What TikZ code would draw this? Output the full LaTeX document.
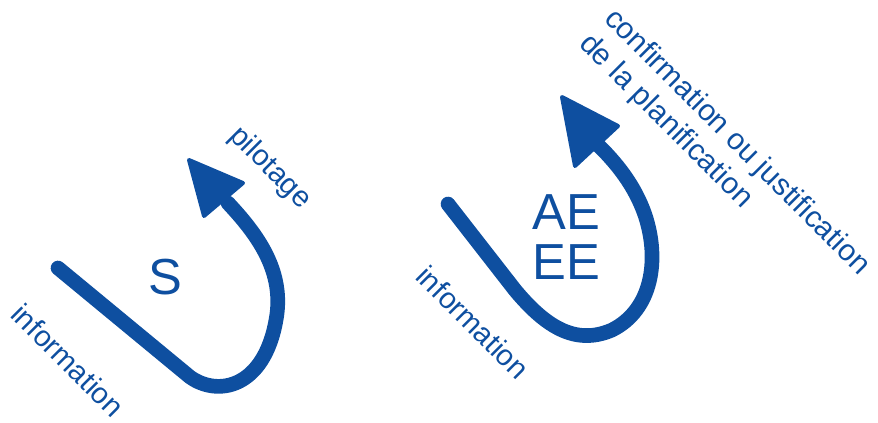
\documentclass[tikz,border=0pt]{standalone}
\usepackage{fontspec}
\setmainfont{Liberation Sans}
\usepackage{xcolor}
\definecolor{pilotblue}{RGB}{14,79,160}

\begin{document}
\begin{tikzpicture}[x=0.75pt,y=0.75pt,yscale=-1,xscale=1,
  loopline/.style={color=pilotblue, line width=11pt, line cap=round, line join=round},
  loophead/.style={color=pilotblue, fill=pilotblue, line width=3pt, line join=round},
  smalllbl/.style={inner sep=0pt, font=\fontsize{22}{26.5}\selectfont, color=pilotblue, rotate=-45},
  biglbl/.style={inner sep=0pt, font=\fontsize{38}{37}\selectfont, color=pilotblue, align=center}]
%set diagram frame 878 x 422
\useasboundingbox (0,0) rectangle (878,422);

%Curve: left loop
\draw [loopline] (58,268) -- (190,377) .. controls (218,397) and (264,388) .. (276,320) .. controls (285,272) and (258,235) .. (228,203) ;
%Shape: left head
\draw [loophead] (189,160) -- (243,183) -- (204,216) -- cycle ;

%Curve: right loop
\draw [loopline] (448,204) -- (515,290) .. controls (545,326) and (575,346) .. (612,330) .. controls (652,310) and (660,260) .. (645,215) .. controls (635,186) and (617,163) .. (595,142) ;
%Shape: right head
\draw [loophead] (562,97) -- (618,126) -- (575,166) -- cycle ;

% Text Node
\node [biglbl] (s) at (165,277) {S};
% Text Node
\node [biglbl] (ae) at (566,237) {AE\\EE};
% Text Node
\node [smalllbl] (infoS) at (68,360) {information};
% Text Node
\node [smalllbl] (pilot) at (270,168) {pilotage};
% Text Node
\node [smalllbl] (infoA) at (473,322) {information};
% Text Node
\node [smalllbl, align=left, font=\fontsize{22.5}{26.5}\selectfont] (confirm) at (724,155) {confirmation ou justification\\de la planification};

\end{tikzpicture}
\end{document}
